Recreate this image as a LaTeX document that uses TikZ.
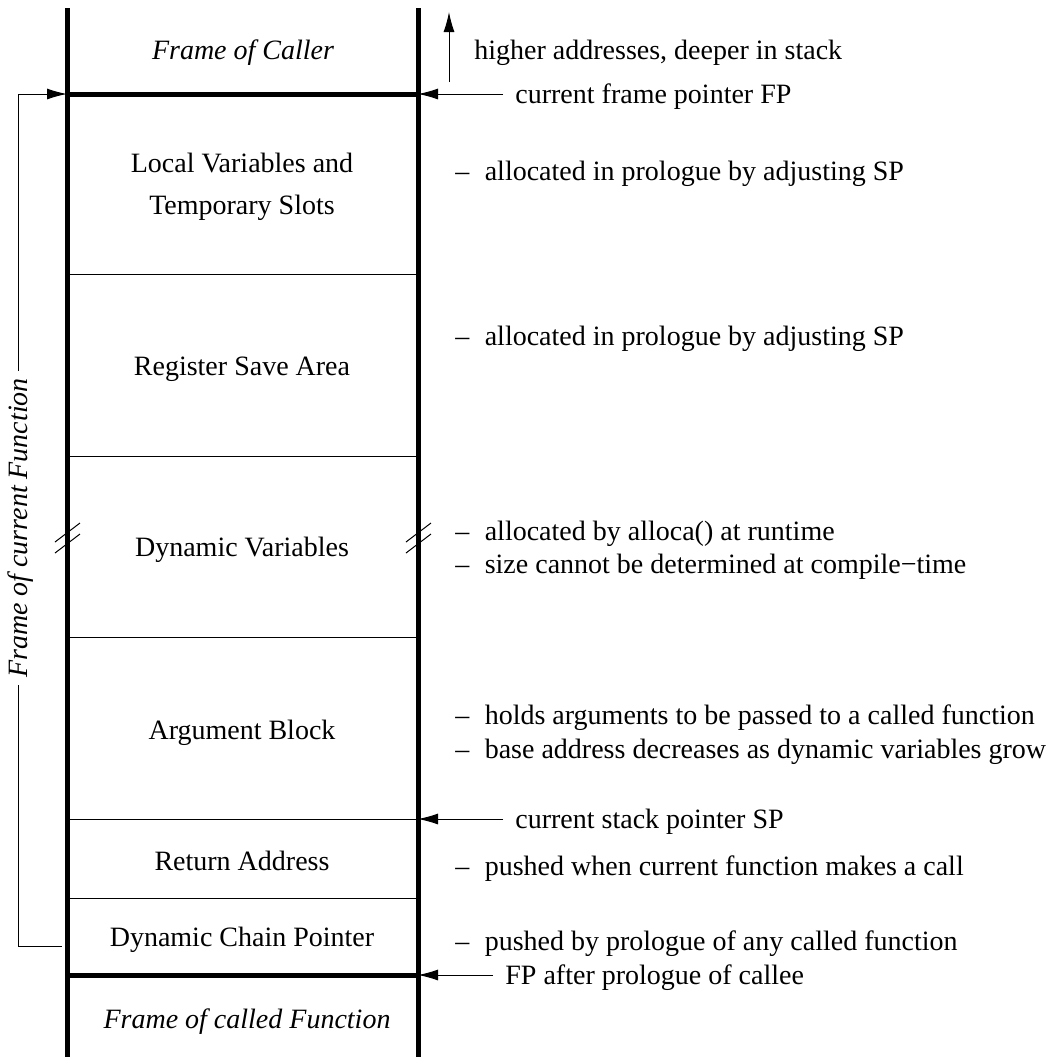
\documentclass[tikz,border=0pt]{standalone}
\usepackage{fontspec}
\setmainfont{Liberation Serif}
\usetikzlibrary{arrows.meta}

\begin{document}
\begin{tikzpicture}[x=0.5pt, y=-0.5pt, font=\fontsize{14}{16}\selectfont,
        arr/.style={-{Latex[length=10pt,width=5.5pt]}, line width=0.5pt},
        wall/.style={line width=2.5pt},
        slotline/.style={line width=0.5pt},
        note/.style={anchor=west, inner sep=0pt}]
        \useasboundingbox (0, 0) rectangle (1061, 1057);
        % walls of the stack
        \coordinate (lt) at (67, 8);
        \coordinate (lb) at (67, 1057);
        \coordinate (rt) at (418, 8);
        \coordinate (rb) at (418, 1057);
        \draw [wall] (lt) -- (lb);
        \draw [wall] (rt) -- (rb);
        \coordinate (fpl) at (67, 94);
        \coordinate (fp) at (418, 94);
        \coordinate (fpcl) at (67, 975);
        \coordinate (fpc) at (418, 975);
        \coordinate (sp) at (418, 819);
        \draw [wall] (fpl) -- (fp);
        \draw [wall] (fpcl) -- (fpc);
        \foreach \y in {274, 456, 637, 819, 898}
            \draw [slotline] (67, \y) -- (418, \y);
        % break marks
        \foreach \x in {67, 418}
        {
            \draw [slotline] (\x-12, 542) -- (\x+13, 523);
            \draw [slotline] (\x-12, 553) -- (\x+13, 534);
        }
        % slots
        \node (caller) at (243, 53) {\itshape Frame of Caller};
        \node [align=center] (locals) at (242, 187) {Local Variables and\\[5pt]Temporary Slots};
        \node (regs) at (242, 369) {Register Save Area};
        \node (dyn) at (242, 550) {Dynamic Variables};
        \node (args) at (242, 733) {Argument Block};
        \node (ret) at (242, 861) {Return Address};
        \node (chain) at (242, 940) {Dynamic Chain Pointer};
        \node (callee) at (247, 1022) {\itshape Frame of called Function};
        % left bracket
        \node [rotate=90] (curfun) at (21, 528) {\itshape Frame of current Function};
        \coordinate (bt) at (18, 94);
        \coordinate (bb) at (18, 946);
        \coordinate (bbr) at (62, 946);
        \draw [arr] (curfun.east -| bt) -- (bt) -- (fpl);
        \draw [slotline] (curfun.west -| bb) -- (bb) -- (bbr);
        % pointers
        \node [note] (higher) at (474, 53) {higher addresses, deeper in stack};
        \coordinate (upb) at (449, 82);
        \coordinate (upt) at (449, 12);
        \draw [arr] (upb) -- (upt);
        \node [note] (fptext) at (515, 97) {current frame pointer FP};
        \node [note] (sptext) at (515, 822) {current stack pointer SP};
        \node [note] (fpctext) at (505, 978) {FP after prologue of callee};
        \draw [arr, shorten <=6pt] (fptext.west |- fp) -- (fp);
        \draw [arr, shorten <=6pt] (sptext.west |- sp) -- (sp);
        \draw [arr, shorten <=6pt] (fpctext.west |- fpc) -- (fpc);
        % notes
        \node [note] (n1) at (455, 174) {–\hspace{0.55em}allocated in prologue by adjusting SP};
        \node [note] (n2) at (455, 339) {–\hspace{0.55em}allocated in prologue by adjusting SP};
        \node [note] (n3) at (455, 534) {–\hspace{0.55em}allocated by alloca() at runtime};
        \node [note] (n4) at (455, 567) {–\hspace{0.55em}size cannot be determined at compile−time};
        \node [note] (n5) at (455, 718) {–\hspace{0.55em}holds arguments to be passed to a called function};
        \node [note] (n6) at (455, 752) {–\hspace{0.55em}base address decreases as dynamic variables grow};
        \node [note] (n7) at (455, 869) {–\hspace{0.55em}pushed when current function makes a call};
        \node [note] (n8) at (455, 944) {–\hspace{0.55em}pushed by prologue of any called function};
    \end{tikzpicture}
\end{document}
